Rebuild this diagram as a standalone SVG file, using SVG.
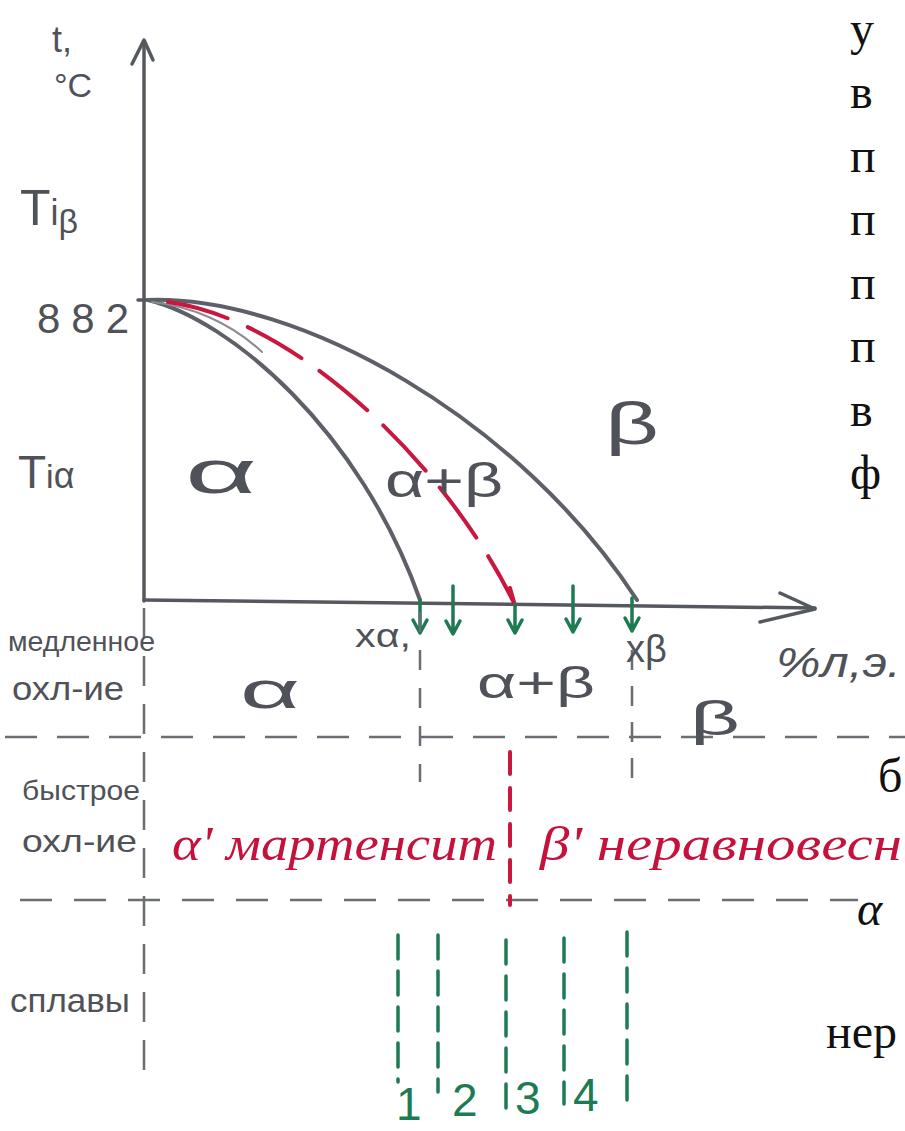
<svg xmlns="http://www.w3.org/2000/svg" width="905" height="1131" viewBox="0 0 905 1131">
<style>
.ax{stroke:#55585e;stroke-width:3.5;fill:none;stroke-linecap:round;stroke-linejoin:round}
.cv{stroke:#5d6066;stroke-width:4;fill:none;stroke-linecap:round}
.cvt{stroke:#8a8d92;stroke-width:2;fill:none;stroke-linecap:round}
.rd{stroke:#c9173f;stroke-width:4;fill:none;stroke-linecap:round}
.gd{stroke:#1d7a52;stroke-width:3.5;fill:none;stroke-linecap:round;stroke-linejoin:round}
.gy{stroke:#6a6d72;stroke-width:2.5;fill:none}
.h{font-family:"Liberation Sans","DejaVu Sans",sans-serif;fill:#4f5258}
.r{font-family:"Liberation Serif","DejaVu Serif",serif;font-style:italic;fill:#c4123c}
.g{font-family:"Liberation Sans","DejaVu Sans",sans-serif;fill:#1d7a52}
.p{font-family:"Liberation Serif","DejaVu Serif",serif;fill:#111}
</style>
<rect width="905" height="1131" fill="#ffffff"/>
<g id="axes">
  <path class="ax" d="M144,42 L144,601"/>
  <path class="ax" d="M132,64 L144,40 L153,60"/>
  <path class="ax" d="M144,600 L815,608"/>
  <path class="ax" d="M780,593 L815,609 L760,622"/>
  <path class="ax" d="M138,300 L148,300"/>
</g>
<g id="connectors">
  <path class="cv" d="M148,300 C300,295 520,420 637,600"/>
  <path class="cv" d="M148,300 C230,320 360,430 420,600"/>
  <path class="cvt" d="M152,302 C190,306 230,322 262,352"/>
  <path class="rd" stroke-dasharray="62 22" d="M168,302 C300,320 450,470 515,605"/>
  <path class="rd" d="M510,588 L514,602"/>
  <path class="gd" d="M420,600 V632 M413,620 L420,633 L427,620"/>
  <path class="gd" d="M453,586 V634 M446,621 L453,634 L460,621"/>
  <path class="gd" d="M515,604 V633 M508,620 L515,633 L522,620"/>
  <path class="gd" d="M573,586 V632 M566,619 L573,632 L580,619"/>
  <path class="gd" d="M632,598 V631 M625,618 L632,631 L639,618"/>
  <path class="gy" stroke-dasharray="32 20" d="M5,737 H905"/>
  <path class="gy" stroke-dasharray="32 22" d="M20,900 H858"/>
  <path class="gy" stroke-dasharray="30 18" d="M144,608 V1080"/>
  <path class="gy" stroke-dasharray="20 18" d="M420,612 V782"/>
  <path class="gy" stroke-dasharray="20 16" d="M632,650 V782"/>
  <path class="rd" stroke-width="3" stroke-dasharray="22 14" d="M510,752 V905"/>
  <path class="gd" stroke-dasharray="24 12" d="M398,935 V1082"/>
  <path class="gd" stroke-dasharray="24 12" d="M438,935 V1092"/>
  <path class="gd" stroke-dasharray="24 12" d="M506,940 V1112"/>
  <path class="gd" stroke-dasharray="24 12" d="M564,938 V1104"/>
  <path class="gd" stroke-dasharray="24 12" d="M627,932 V1112"/>
</g>
<g id="axis-labels">
  <text class="h" x="52" y="52" font-size="36">t,</text>
  <text class="h" x="54" y="97" font-size="34">°C</text>
  <text class="h" x="20" y="225" font-size="50">T<tspan font-size="36">i</tspan><tspan font-size="34" dy="8">β</tspan></text>
  <text class="h" x="37" y="333" font-size="42" textLength="92">882</text>
  <text class="h" x="18" y="488" font-size="46">T<tspan font-size="34">i</tspan><tspan font-size="36">α</tspan></text>
  <text class="h" x="355" y="647" font-size="34" textLength="56" lengthAdjust="spacingAndGlyphs">xα,</text>
  <text class="h" x="626" y="662" font-size="38">x<tspan>β</tspan></text>
  <text class="h" x="776" y="677" font-size="42" font-style="italic" textLength="125" lengthAdjust="spacingAndGlyphs">%л,э.</text>
</g>
<g id="phase-labels">
  <text class="h" x="185" y="493" font-size="62" textLength="72" lengthAdjust="spacingAndGlyphs">α</text>
  <text class="h" x="385" y="497" font-size="48" textLength="118" lengthAdjust="spacingAndGlyphs">α+β</text>
  <text class="h" x="605" y="444" font-size="60" textLength="54" lengthAdjust="spacingAndGlyphs">β</text>
</g>
<g id="rows">
  <text class="h" x="8" y="651" font-size="27" textLength="147" lengthAdjust="spacingAndGlyphs">медленное</text>
  <text class="h" x="12" y="700" font-size="34" textLength="112" lengthAdjust="spacingAndGlyphs">охл-ие</text>
  <text class="h" x="240" y="708" font-size="52" textLength="60" lengthAdjust="spacingAndGlyphs">α</text>
  <text class="h" x="477" y="698" font-size="44" textLength="118" lengthAdjust="spacingAndGlyphs">α+β</text>
  <text class="h" x="690" y="735" font-size="48" textLength="50" lengthAdjust="spacingAndGlyphs">β</text>
  <text class="h" x="22" y="800" font-size="28" textLength="118" lengthAdjust="spacingAndGlyphs">быстрое</text>
  <text class="h" x="22" y="852" font-size="32" textLength="115" lengthAdjust="spacingAndGlyphs">охл-ие</text>
  <text class="r" x="172" y="860" font-size="48" textLength="325" lengthAdjust="spacingAndGlyphs">α' мартенсит</text>
  <text class="r" x="540" y="860" font-size="48" textLength="362" lengthAdjust="spacingAndGlyphs">β' неравновесн</text>
  <text class="h" x="10" y="1012" font-size="34" textLength="120" lengthAdjust="spacingAndGlyphs">сплавы</text>
  <text class="g" x="396" y="1120" font-size="46">1</text>
  <text class="g" x="452" y="1116" font-size="46">2</text>
  <text class="g" x="515" y="1114" font-size="46">3</text>
  <text class="g" x="573" y="1111" font-size="46">4</text>
</g>
<g id="printed-text">
  <text class="p" x="850" y="45" font-size="48">у</text>
  <text class="p" x="850" y="108" font-size="48">в</text>
  <text class="p" x="850" y="172" font-size="48">п</text>
  <text class="p" x="850" y="235" font-size="48">п</text>
  <text class="p" x="850" y="299" font-size="48">п</text>
  <text class="p" x="850" y="362" font-size="48">п</text>
  <text class="p" x="850" y="426" font-size="48">в</text>
  <text class="p" x="850" y="489" font-size="48">ф</text>
  <text class="p" x="878" y="792" font-size="48">б</text>
  <text class="p" x="857" y="925" font-size="48" font-style="italic">α</text>
  <text class="p" x="826" y="1048" font-size="48">нер</text>
</g>
</svg>
